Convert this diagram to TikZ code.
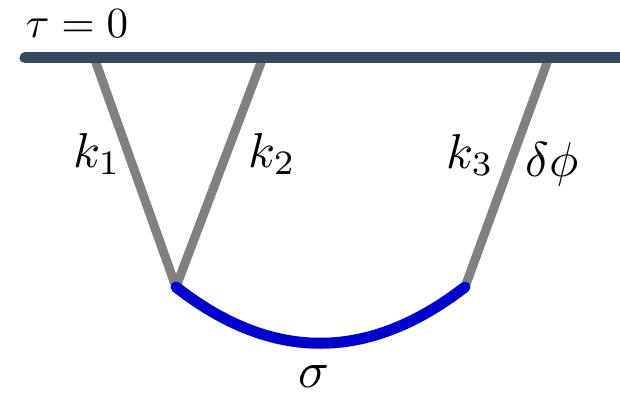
\documentclass[tikz,border=0pt]{standalone}
\usepackage{graphicx}
\definecolor{balken}{HTML}{34495E}
\definecolor{linie}{HTML}{808080}
\definecolor{bogen}{HTML}{0000CC}
\newcommand{\gross}[2][4.9]{\scalebox{#1}{#2}}
\begin{document}
\begin{tikzpicture}[x=1pt,y=-1pt,
  prop/.style={line width=9pt,linie},
  lbl/.style={inner sep=0pt}]
\useasboundingbox (0,0) rectangle (620,401);
% Punkte
\coordinate (t1) at (95,60); \coordinate (t2) at (262,60); \coordinate (t3) at (548,60);
\coordinate (v1) at (176,287); \coordinate (v2) at (465,287);
% Linien k1, k2, k3
\draw[prop] (t1) -- (v1); \draw[prop] (t2) -- (v1); \draw[prop] (t3) -- (v2);
% Bogen sigma
\draw[line width=11pt,bogen,line cap=round] (v1) .. controls (272,362) and (368,362) .. (v2);
% Balken tau=0
\coordinate (b1) at (25,58); \coordinate (b2) at (625,58);
\draw[line width=11pt,balken,line cap=round] (b1) -- (b2);
\node[lbl] (tau) at (77,24) {\gross[4.3]{$\tau=0$}};
\node[lbl] (k1) at (97,154) {\gross{$k_1$}};
\node[lbl] (k2) at (272,154) {\gross{$k_2$}};
\node[lbl] (k3) at (470,155) {\gross{$k_3$}};
\node[lbl] (dphi) at (552,164) {\gross{$\delta\phi$}};
\node[lbl] (sig) at (314,377) {\gross[5.1]{$\sigma$}};
\end{tikzpicture}
\end{document}
